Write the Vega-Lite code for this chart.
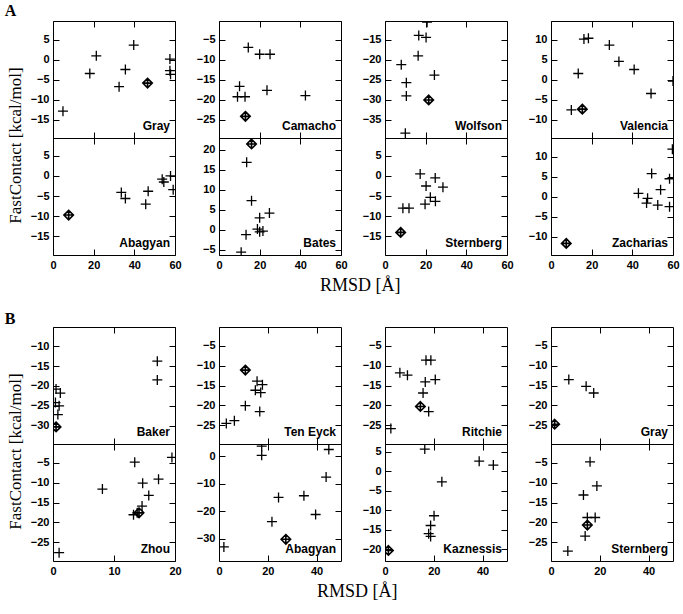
{
"$schema": "https://vega.github.io/schema/vega-lite/v6.json",
"padding": {"left": 4, "top": 2, "right": 0, "bottom": 0},
"background": "white",
"data": {"name": "pts"},
"datasets": {"pts": [
{"p":"A Gray","r":4.9,"e":-12.8,"nat":0},{"p":"A Gray","r":18.1,"e":-3.4,"nat":0},{"p":"A Gray","r":21.3,"e":1.0,"nat":0},{"p":"A Gray","r":32.5,"e":-6.7,"nat":0},{"p":"A Gray","r":35.6,"e":-2.4,"nat":0},{"p":"A Gray","r":39.7,"e":3.7,"nat":0},{"p":"A Gray","r":57.5,"e":0.2,"nat":0},{"p":"A Gray","r":57.5,"e":-2.7,"nat":0},{"p":"A Gray","r":57.8,"e":-3.6,"nat":0},{"p":"A Gray","r":46.5,"e":-5.8,"nat":1},
{"p":"A Camacho","r":14.4,"e":-6.9,"nat":0},{"p":"A Camacho","r":20.0,"e":-8.6,"nat":0},{"p":"A Camacho","r":25.1,"e":-8.6,"nat":0},{"p":"A Camacho","r":10.1,"e":-16.6,"nat":0},{"p":"A Camacho","r":9.1,"e":-19.2,"nat":0},{"p":"A Camacho","r":12.8,"e":-19.2,"nat":0},{"p":"A Camacho","r":23.6,"e":-17.6,"nat":0},{"p":"A Camacho","r":42.5,"e":-18.9,"nat":0},{"p":"A Camacho","r":13.0,"e":-24.1,"nat":1},
{"p":"A Wolfson","r":20.7,"e":-10.6,"nat":0},{"p":"A Wolfson","r":16.6,"e":-13.9,"nat":0},{"p":"A Wolfson","r":20.2,"e":-14.4,"nat":0},{"p":"A Wolfson","r":16.3,"e":-19.0,"nat":0},{"p":"A Wolfson","r":8.0,"e":-21.2,"nat":0},{"p":"A Wolfson","r":10.5,"e":-25.7,"nat":0},{"p":"A Wolfson","r":10.5,"e":-29.0,"nat":0},{"p":"A Wolfson","r":24.3,"e":-23.8,"nat":0},{"p":"A Wolfson","r":10.0,"e":-38.3,"nat":0},{"p":"A Wolfson","r":21.5,"e":-30.0,"nat":1},
{"p":"A Valencia","r":16.2,"e":10.2,"nat":0},{"p":"A Valencia","r":18.4,"e":10.4,"nat":0},{"p":"A Valencia","r":13.4,"e":1.6,"nat":0},{"p":"A Valencia","r":28.7,"e":8.7,"nat":0},{"p":"A Valencia","r":33.4,"e":4.6,"nat":0},{"p":"A Valencia","r":40.9,"e":2.6,"nat":0},{"p":"A Valencia","r":49.2,"e":-3.4,"nat":0},{"p":"A Valencia","r":60.0,"e":-0.3,"nat":0},{"p":"A Valencia","r":10.0,"e":-7.5,"nat":0},{"p":"A Valencia","r":15.4,"e":-7.3,"nat":1},
{"p":"A Abagyan","r":33.6,"e":-4.1,"nat":0},{"p":"A Abagyan","r":35.6,"e":-5.6,"nat":0},{"p":"A Abagyan","r":45.6,"e":-7.0,"nat":0},{"p":"A Abagyan","r":46.8,"e":-3.8,"nat":0},{"p":"A Abagyan","r":53.7,"e":-0.8,"nat":0},{"p":"A Abagyan","r":54.5,"e":-1.5,"nat":0},{"p":"A Abagyan","r":57.8,"e":0.0,"nat":0},{"p":"A Abagyan","r":59.1,"e":-3.4,"nat":0},{"p":"A Abagyan","r":7.7,"e":-9.7,"nat":1},
{"p":"A Bates","r":13.6,"e":16.9,"nat":0},{"p":"A Bates","r":16.0,"e":7.3,"nat":0},{"p":"A Bates","r":20.0,"e":3.0,"nat":0},{"p":"A Bates","r":24.8,"e":4.2,"nat":0},{"p":"A Bates","r":18.9,"e":0.2,"nat":0},{"p":"A Bates","r":20.0,"e":-0.5,"nat":0},{"p":"A Bates","r":21.6,"e":-0.3,"nat":0},{"p":"A Bates","r":13.3,"e":-1.2,"nat":0},{"p":"A Bates","r":10.9,"e":-5.6,"nat":0},{"p":"A Bates","r":16.0,"e":21.5,"nat":1},
{"p":"A Sternberg","r":17.3,"e":0.5,"nat":0},{"p":"A Sternberg","r":20.2,"e":-2.5,"nat":0},{"p":"A Sternberg","r":24.7,"e":-0.5,"nat":0},{"p":"A Sternberg","r":28.5,"e":-2.8,"nat":0},{"p":"A Sternberg","r":22.3,"e":-5.3,"nat":0},{"p":"A Sternberg","r":24.8,"e":-6.3,"nat":0},{"p":"A Sternberg","r":19.7,"e":-7.0,"nat":0},{"p":"A Sternberg","r":8.8,"e":-8.0,"nat":0},{"p":"A Sternberg","r":11.8,"e":-8.0,"nat":0},{"p":"A Sternberg","r":7.7,"e":-14.0,"nat":1},
{"p":"A Zacharias","r":59.7,"e":11.9,"nat":0},{"p":"A Zacharias","r":49.5,"e":5.8,"nat":0},{"p":"A Zacharias","r":58.3,"e":4.5,"nat":0},{"p":"A Zacharias","r":53.9,"e":1.75,"nat":0},{"p":"A Zacharias","r":43.0,"e":0.85,"nat":0},{"p":"A Zacharias","r":47.5,"e":-0.4,"nat":0},{"p":"A Zacharias","r":47.0,"e":-1.6,"nat":0},{"p":"A Zacharias","r":52.5,"e":-2.1,"nat":0},{"p":"A Zacharias","r":58.3,"e":-2.5,"nat":0},{"p":"A Zacharias","r":7.5,"e":-11.7,"nat":1},
{"p":"B Baker","r":17.1,"e":-13.8,"nat":0},{"p":"B Baker","r":17.1,"e":-18.5,"nat":0},{"p":"B Baker","r":0.5,"e":-20.8,"nat":0},{"p":"B Baker","r":1.2,"e":-21.8,"nat":0},{"p":"B Baker","r":0.4,"e":-24.2,"nat":0},{"p":"B Baker","r":1.0,"e":-25.0,"nat":0},{"p":"B Baker","r":0.8,"e":-27.2,"nat":0},{"p":"B Baker","r":0.5,"e":-30.3,"nat":1},
{"p":"B Ten Eyck","r":15.6,"e":-13.9,"nat":0},{"p":"B Ten Eyck","r":17.8,"e":-14.8,"nat":0},{"p":"B Ten Eyck","r":14.9,"e":-16.2,"nat":0},{"p":"B Ten Eyck","r":17.1,"e":-16.8,"nat":0},{"p":"B Ten Eyck","r":10.8,"e":-20.1,"nat":0},{"p":"B Ten Eyck","r":16.7,"e":-21.6,"nat":0},{"p":"B Ten Eyck","r":3.0,"e":-24.6,"nat":0},{"p":"B Ten Eyck","r":6.3,"e":-23.9,"nat":0},{"p":"B Ten Eyck","r":10.8,"e":-11.1,"nat":1},
{"p":"B Ritchie","r":16.8,"e":-8.6,"nat":0},{"p":"B Ritchie","r":18.8,"e":-8.6,"nat":0},{"p":"B Ritchie","r":6.1,"e":-11.8,"nat":0},{"p":"B Ritchie","r":9.2,"e":-12.4,"nat":0},{"p":"B Ritchie","r":16.5,"e":-14.1,"nat":0},{"p":"B Ritchie","r":20.6,"e":-13.5,"nat":0},{"p":"B Ritchie","r":15.6,"e":-16.9,"nat":0},{"p":"B Ritchie","r":17.9,"e":-21.6,"nat":0},{"p":"B Ritchie","r":2.4,"e":-25.9,"nat":0},{"p":"B Ritchie","r":14.5,"e":-20.3,"nat":1},
{"p":"B Gray","r":7.3,"e":-13.5,"nat":0},{"p":"B Gray","r":14.4,"e":-15.2,"nat":0},{"p":"B Gray","r":17.5,"e":-16.9,"nat":0},{"p":"B Gray","r":1.5,"e":-24.8,"nat":1},
{"p":"B Zhou","r":13.4,"e":-4.8,"nat":0},{"p":"B Zhou","r":19.5,"e":-3.6,"nat":0},{"p":"B Zhou","r":17.3,"e":-9.1,"nat":0},{"p":"B Zhou","r":14.7,"e":-10.1,"nat":0},{"p":"B Zhou","r":8.1,"e":-11.6,"nat":0},{"p":"B Zhou","r":15.7,"e":-13.2,"nat":0},{"p":"B Zhou","r":14.6,"e":-15.9,"nat":0},{"p":"B Zhou","r":13.2,"e":-18.1,"nat":0},{"p":"B Zhou","r":13.8,"e":-17.6,"nat":0},{"p":"B Zhou","r":1.0,"e":-27.7,"nat":0},{"p":"B Zhou","r":14.1,"e":-17.6,"nat":1},
{"p":"B Abagyan","r":17.5,"e":0.4,"nat":0},{"p":"B Abagyan","r":17.5,"e":3.7,"nat":0},{"p":"B Abagyan","r":45.0,"e":2.5,"nat":0},{"p":"B Abagyan","r":43.9,"e":-7.5,"nat":0},{"p":"B Abagyan","r":24.4,"e":-14.9,"nat":0},{"p":"B Abagyan","r":34.8,"e":-14.3,"nat":0},{"p":"B Abagyan","r":39.6,"e":-21.1,"nat":0},{"p":"B Abagyan","r":21.7,"e":-23.7,"nat":0},{"p":"B Abagyan","r":2.0,"e":-32.9,"nat":0},{"p":"B Abagyan","r":27.4,"e":-30.1,"nat":1},
{"p":"B Kaznessis","r":16.3,"e":5.7,"nat":0},{"p":"B Kaznessis","r":38.6,"e":2.6,"nat":0},{"p":"B Kaznessis","r":44.4,"e":1.6,"nat":0},{"p":"B Kaznessis","r":23.3,"e":-2.7,"nat":0},{"p":"B Kaznessis","r":20.1,"e":-11.4,"nat":0},{"p":"B Kaznessis","r":18.7,"e":-13.9,"nat":0},{"p":"B Kaznessis","r":17.9,"e":-16.0,"nat":0},{"p":"B Kaznessis","r":18.7,"e":-16.7,"nat":0},{"p":"B Kaznessis","r":1.4,"e":-20.3,"nat":1},
{"p":"B Sternberg","r":16.0,"e":-4.7,"nat":0},{"p":"B Sternberg","r":18.8,"e":-10.8,"nat":0},{"p":"B Sternberg","r":13.3,"e":-13.1,"nat":0},{"p":"B Sternberg","r":14.9,"e":-18.8,"nat":0},{"p":"B Sternberg","r":18.1,"e":-18.8,"nat":0},{"p":"B Sternberg","r":14.0,"e":-23.5,"nat":0},{"p":"B Sternberg","r":6.9,"e":-27.3,"nat":0},{"p":"B Sternberg","r":14.9,"e":-20.7,"nat":1}
]},
"vconcat": [
{
 "title": {"text": "A", "anchor": "start", "frame": "bounds", "font": "Liberation Serif", "fontSize": 16, "fontWeight": "bold", "offset": 2, "dx": -2},
 "vconcat": [{
  "title": {"text": "RMSD [Å]", "orient": "bottom", "anchor": "middle", "offset": 6, "fontSize": 18, "dx": 17},
  "vconcat": [{
   "title": {"text": "FastContact [kcal/mol]", "orient": "left", "anchor": "middle", "offset": 5},
   "columns": 4, "spacing": {"row": 0, "column": 44}, "bounds": "flush",
   "concat": [
     {"width":122,"height":117,"resolve":{"axis":{"x":"independent","y":"independent"}},"layer":[
      {"transform":[{"filter":"datum.p==='A Gray'&&datum.nat===0"}],"mark":{"type":"point","shape":"M-1,0L1,0M0,-1L0,1","filled":false,"stroke":"#000","strokeWidth":1.3,"size":100,"opacity":1,"clip":true},"encoding":{"x":{"field":"r","type":"quantitative","scale":{"domain":[0,60],"nice":false,"zero":false},"axis":{"orient":"bottom","title":null,"values":[0,20,40,60],"labels":false}},"y":{"field":"e","type":"quantitative","scale":{"domain":[-19.5,9.7],"nice":false,"zero":false},"axis":{"orient":"left","title":null,"values":[-15,-10,-5,0,5]}}}},
      {"transform":[{"filter":"datum.p==='A Gray'&&datum.nat===1"}],"mark":{"type":"point","shape":"M0,-1L1,0L0,1L-1,0ZM-1,0L1,0M0,-1L0,1","filled":false,"stroke":"#000","strokeWidth":1.6,"size":90,"opacity":1,"clip":true},"encoding":{"x":{"field":"r","type":"quantitative","scale":{"domain":[0,60],"nice":false,"zero":false},"axis":{"orient":"top","title":null,"tickCount":30}},"y":{"field":"e","type":"quantitative","scale":{"domain":[-19.5,9.7],"nice":false,"zero":false},"axis":{"orient":"right","title":null,"tickCount":30}}}},
      {"data":{"values":[{"label":"Gray"}]},"mark":{"type":"text","align":"right","baseline":"alphabetic","dx":-5,"dy":-8,"font":"Liberation Sans","fontSize":12,"fontWeight":"bold","color":"#000"},"encoding":{"x":{"value":"width"},"y":{"value":"height"},"text":{"field":"label","type":"nominal"}}}
     ]},
     {"width":122,"height":117,"resolve":{"axis":{"x":"independent","y":"independent"}},"layer":[
      {"transform":[{"filter":"datum.p==='A Camacho'&&datum.nat===0"}],"mark":{"type":"point","shape":"M-1,0L1,0M0,-1L0,1","filled":false,"stroke":"#000","strokeWidth":1.3,"size":100,"opacity":1,"clip":true},"encoding":{"x":{"field":"r","type":"quantitative","scale":{"domain":[0,60],"nice":false,"zero":false},"axis":{"orient":"bottom","title":null,"values":[0,20,40,60],"labels":false}},"y":{"field":"e","type":"quantitative","scale":{"domain":[-29.5,-0.3],"nice":false,"zero":false},"axis":{"orient":"left","title":null,"values":[-25,-20,-15,-10,-5]}}}},
      {"transform":[{"filter":"datum.p==='A Camacho'&&datum.nat===1"}],"mark":{"type":"point","shape":"M0,-1L1,0L0,1L-1,0ZM-1,0L1,0M0,-1L0,1","filled":false,"stroke":"#000","strokeWidth":1.6,"size":90,"opacity":1,"clip":true},"encoding":{"x":{"field":"r","type":"quantitative","scale":{"domain":[0,60],"nice":false,"zero":false},"axis":{"orient":"top","title":null,"tickCount":30}},"y":{"field":"e","type":"quantitative","scale":{"domain":[-29.5,-0.3],"nice":false,"zero":false},"axis":{"orient":"right","title":null,"tickCount":30}}}},
      {"data":{"values":[{"label":"Camacho"}]},"mark":{"type":"text","align":"right","baseline":"alphabetic","dx":-5,"dy":-8,"font":"Liberation Sans","fontSize":12,"fontWeight":"bold","color":"#000"},"encoding":{"x":{"value":"width"},"y":{"value":"height"},"text":{"field":"label","type":"nominal"}}}
     ]},
     {"width":122,"height":117,"resolve":{"axis":{"x":"independent","y":"independent"}},"layer":[
      {"transform":[{"filter":"datum.p==='A Wolfson'&&datum.nat===0"}],"mark":{"type":"point","shape":"M-1,0L1,0M0,-1L0,1","filled":false,"stroke":"#000","strokeWidth":1.3,"size":100,"opacity":1,"clip":true},"encoding":{"x":{"field":"r","type":"quantitative","scale":{"domain":[0,60],"nice":false,"zero":false},"axis":{"orient":"bottom","title":null,"values":[0,20,40,60],"labels":false}},"y":{"field":"e","type":"quantitative","scale":{"domain":[-39.5,-10.3],"nice":false,"zero":false},"axis":{"orient":"left","title":null,"values":[-35,-30,-25,-20,-15]}}}},
      {"transform":[{"filter":"datum.p==='A Wolfson'&&datum.nat===1"}],"mark":{"type":"point","shape":"M0,-1L1,0L0,1L-1,0ZM-1,0L1,0M0,-1L0,1","filled":false,"stroke":"#000","strokeWidth":1.6,"size":90,"opacity":1,"clip":true},"encoding":{"x":{"field":"r","type":"quantitative","scale":{"domain":[0,60],"nice":false,"zero":false},"axis":{"orient":"top","title":null,"tickCount":30}},"y":{"field":"e","type":"quantitative","scale":{"domain":[-39.5,-10.3],"nice":false,"zero":false},"axis":{"orient":"right","title":null,"tickCount":30}}}},
      {"data":{"values":[{"label":"Wolfson"}]},"mark":{"type":"text","align":"right","baseline":"alphabetic","dx":-5,"dy":-8,"font":"Liberation Sans","fontSize":12,"fontWeight":"bold","color":"#000"},"encoding":{"x":{"value":"width"},"y":{"value":"height"},"text":{"field":"label","type":"nominal"}}}
     ]},
     {"width":122,"height":117,"resolve":{"axis":{"x":"independent","y":"independent"}},"layer":[
      {"transform":[{"filter":"datum.p==='A Valencia'&&datum.nat===0"}],"mark":{"type":"point","shape":"M-1,0L1,0M0,-1L0,1","filled":false,"stroke":"#000","strokeWidth":1.3,"size":100,"opacity":1,"clip":true},"encoding":{"x":{"field":"r","type":"quantitative","scale":{"domain":[0,60],"nice":false,"zero":false},"axis":{"orient":"bottom","title":null,"values":[0,20,40,60],"labels":false}},"y":{"field":"e","type":"quantitative","scale":{"domain":[-14.5,14.7],"nice":false,"zero":false},"axis":{"orient":"left","title":null,"values":[-10,-5,0,5,10]}}}},
      {"transform":[{"filter":"datum.p==='A Valencia'&&datum.nat===1"}],"mark":{"type":"point","shape":"M0,-1L1,0L0,1L-1,0ZM-1,0L1,0M0,-1L0,1","filled":false,"stroke":"#000","strokeWidth":1.6,"size":90,"opacity":1,"clip":true},"encoding":{"x":{"field":"r","type":"quantitative","scale":{"domain":[0,60],"nice":false,"zero":false},"axis":{"orient":"top","title":null,"tickCount":30}},"y":{"field":"e","type":"quantitative","scale":{"domain":[-14.5,14.7],"nice":false,"zero":false},"axis":{"orient":"right","title":null,"tickCount":30}}}},
      {"data":{"values":[{"label":"Valencia"}]},"mark":{"type":"text","align":"right","baseline":"alphabetic","dx":-5,"dy":-8,"font":"Liberation Sans","fontSize":12,"fontWeight":"bold","color":"#000"},"encoding":{"x":{"value":"width"},"y":{"value":"height"},"text":{"field":"label","type":"nominal"}}}
     ]},
     {"width":122,"height":117,"resolve":{"axis":{"x":"independent","y":"independent"}},"layer":[
      {"transform":[{"filter":"datum.p==='A Abagyan'&&datum.nat===0"}],"mark":{"type":"point","shape":"M-1,0L1,0M0,-1L0,1","filled":false,"stroke":"#000","strokeWidth":1.3,"size":100,"opacity":1,"clip":true},"encoding":{"x":{"field":"r","type":"quantitative","scale":{"domain":[0,60],"nice":false,"zero":false},"axis":{"orient":"bottom","title":null,"values":[0,20,40,60]}},"y":{"field":"e","type":"quantitative","scale":{"domain":[-19.6,9.4],"nice":false,"zero":false},"axis":{"orient":"left","title":null,"values":[-15,-10,-5,0,5]}}}},
      {"transform":[{"filter":"datum.p==='A Abagyan'&&datum.nat===1"}],"mark":{"type":"point","shape":"M0,-1L1,0L0,1L-1,0ZM-1,0L1,0M0,-1L0,1","filled":false,"stroke":"#000","strokeWidth":1.6,"size":90,"opacity":1,"clip":true},"encoding":{"x":{"field":"r","type":"quantitative","scale":{"domain":[0,60],"nice":false,"zero":false},"axis":{"orient":"top","title":null,"tickCount":30}},"y":{"field":"e","type":"quantitative","scale":{"domain":[-19.6,9.4],"nice":false,"zero":false},"axis":{"orient":"right","title":null,"tickCount":30}}}},
      {"data":{"values":[{"label":"Abagyan"}]},"mark":{"type":"text","align":"right","baseline":"alphabetic","dx":-5,"dy":-8,"font":"Liberation Sans","fontSize":12,"fontWeight":"bold","color":"#000"},"encoding":{"x":{"value":"width"},"y":{"value":"height"},"text":{"field":"label","type":"nominal"}}}
     ]},
     {"width":122,"height":117,"resolve":{"axis":{"x":"independent","y":"independent"}},"layer":[
      {"transform":[{"filter":"datum.p==='A Bates'&&datum.nat===0"}],"mark":{"type":"point","shape":"M-1,0L1,0M0,-1L0,1","filled":false,"stroke":"#000","strokeWidth":1.3,"size":100,"opacity":1,"clip":true},"encoding":{"x":{"field":"r","type":"quantitative","scale":{"domain":[0,60],"nice":false,"zero":false},"axis":{"orient":"bottom","title":null,"values":[0,20,40,60]}},"y":{"field":"e","type":"quantitative","scale":{"domain":[-6.3,23],"nice":false,"zero":false},"axis":{"orient":"left","title":null,"values":[-5,0,5,10,15,20]}}}},
      {"transform":[{"filter":"datum.p==='A Bates'&&datum.nat===1"}],"mark":{"type":"point","shape":"M0,-1L1,0L0,1L-1,0ZM-1,0L1,0M0,-1L0,1","filled":false,"stroke":"#000","strokeWidth":1.6,"size":90,"opacity":1,"clip":true},"encoding":{"x":{"field":"r","type":"quantitative","scale":{"domain":[0,60],"nice":false,"zero":false},"axis":{"orient":"top","title":null,"tickCount":30}},"y":{"field":"e","type":"quantitative","scale":{"domain":[-6.3,23],"nice":false,"zero":false},"axis":{"orient":"right","title":null,"tickCount":30}}}},
      {"data":{"values":[{"label":"Bates"}]},"mark":{"type":"text","align":"right","baseline":"alphabetic","dx":-5,"dy":-8,"font":"Liberation Sans","fontSize":12,"fontWeight":"bold","color":"#000"},"encoding":{"x":{"value":"width"},"y":{"value":"height"},"text":{"field":"label","type":"nominal"}}}
     ]},
     {"width":122,"height":117,"resolve":{"axis":{"x":"independent","y":"independent"}},"layer":[
      {"transform":[{"filter":"datum.p==='A Sternberg'&&datum.nat===0"}],"mark":{"type":"point","shape":"M-1,0L1,0M0,-1L0,1","filled":false,"stroke":"#000","strokeWidth":1.3,"size":100,"opacity":1,"clip":true},"encoding":{"x":{"field":"r","type":"quantitative","scale":{"domain":[0,60],"nice":false,"zero":false},"axis":{"orient":"bottom","title":null,"values":[0,20,40,60]}},"y":{"field":"e","type":"quantitative","scale":{"domain":[-19.6,9.4],"nice":false,"zero":false},"axis":{"orient":"left","title":null,"values":[-15,-10,-5,0,5]}}}},
      {"transform":[{"filter":"datum.p==='A Sternberg'&&datum.nat===1"}],"mark":{"type":"point","shape":"M0,-1L1,0L0,1L-1,0ZM-1,0L1,0M0,-1L0,1","filled":false,"stroke":"#000","strokeWidth":1.6,"size":90,"opacity":1,"clip":true},"encoding":{"x":{"field":"r","type":"quantitative","scale":{"domain":[0,60],"nice":false,"zero":false},"axis":{"orient":"top","title":null,"tickCount":30}},"y":{"field":"e","type":"quantitative","scale":{"domain":[-19.6,9.4],"nice":false,"zero":false},"axis":{"orient":"right","title":null,"tickCount":30}}}},
      {"data":{"values":[{"label":"Sternberg"}]},"mark":{"type":"text","align":"right","baseline":"alphabetic","dx":-5,"dy":-8,"font":"Liberation Sans","fontSize":12,"fontWeight":"bold","color":"#000"},"encoding":{"x":{"value":"width"},"y":{"value":"height"},"text":{"field":"label","type":"nominal"}}}
     ]},
     {"width":122,"height":117,"resolve":{"axis":{"x":"independent","y":"independent"}},"layer":[
      {"transform":[{"filter":"datum.p==='A Zacharias'&&datum.nat===0"}],"mark":{"type":"point","shape":"M-1,0L1,0M0,-1L0,1","filled":false,"stroke":"#000","strokeWidth":1.3,"size":100,"opacity":1,"clip":true},"encoding":{"x":{"field":"r","type":"quantitative","scale":{"domain":[0,60],"nice":false,"zero":false},"axis":{"orient":"bottom","title":null,"values":[0,20,40,60]}},"y":{"field":"e","type":"quantitative","scale":{"domain":[-14.6,14.7],"nice":false,"zero":false},"axis":{"orient":"left","title":null,"values":[-10,-5,0,5,10]}}}},
      {"transform":[{"filter":"datum.p==='A Zacharias'&&datum.nat===1"}],"mark":{"type":"point","shape":"M0,-1L1,0L0,1L-1,0ZM-1,0L1,0M0,-1L0,1","filled":false,"stroke":"#000","strokeWidth":1.6,"size":90,"opacity":1,"clip":true},"encoding":{"x":{"field":"r","type":"quantitative","scale":{"domain":[0,60],"nice":false,"zero":false},"axis":{"orient":"top","title":null,"tickCount":30}},"y":{"field":"e","type":"quantitative","scale":{"domain":[-14.6,14.7],"nice":false,"zero":false},"axis":{"orient":"right","title":null,"tickCount":30}}}},
      {"data":{"values":[{"label":"Zacharias"}]},"mark":{"type":"text","align":"right","baseline":"alphabetic","dx":-5,"dy":-8,"font":"Liberation Sans","fontSize":12,"fontWeight":"bold","color":"#000"},"encoding":{"x":{"value":"width"},"y":{"value":"height"},"text":{"field":"label","type":"nominal"}}}
     ]}
   ]
  }]
 }]
},
{
 "title": {"text": "B", "anchor": "start", "frame": "bounds", "font": "Liberation Serif", "fontSize": 16, "fontWeight": "bold", "offset": 0, "dx": -2},
 "vconcat": [{
  "title": {"text": "RMSD [Å]", "orient": "bottom", "anchor": "middle", "offset": 6, "fontSize": 18, "dx": 17},
  "vconcat": [{
   "title": {"text": "FastContact [kcal/mol]", "orient": "left", "anchor": "middle", "offset": 5},
   "columns": 4, "spacing": {"row": 0, "column": 44}, "bounds": "flush",
   "concat": [
     {"width":122,"height":117,"resolve":{"axis":{"x":"independent","y":"independent"}},"layer":[
      {"transform":[{"filter":"datum.p==='B Baker'&&datum.nat===0"}],"mark":{"type":"point","shape":"M-1,0L1,0M0,-1L0,1","filled":false,"stroke":"#000","strokeWidth":1.3,"size":100,"opacity":1,"clip":true},"encoding":{"x":{"field":"r","type":"quantitative","scale":{"domain":[0,20],"nice":false,"zero":false},"axis":{"orient":"bottom","title":null,"values":[0,10,20],"labels":false}},"y":{"field":"e","type":"quantitative","scale":{"domain":[-34.6,-5.2],"nice":false,"zero":false},"axis":{"orient":"left","title":null,"values":[-30,-25,-20,-15,-10]}}}},
      {"transform":[{"filter":"datum.p==='B Baker'&&datum.nat===1"}],"mark":{"type":"point","shape":"M0,-1L1,0L0,1L-1,0ZM-1,0L1,0M0,-1L0,1","filled":false,"stroke":"#000","strokeWidth":1.6,"size":90,"opacity":1,"clip":true},"encoding":{"x":{"field":"r","type":"quantitative","scale":{"domain":[0,20],"nice":false,"zero":false},"axis":{"orient":"top","title":null,"tickCount":20}},"y":{"field":"e","type":"quantitative","scale":{"domain":[-34.6,-5.2],"nice":false,"zero":false},"axis":{"orient":"right","title":null,"tickCount":30}}}},
      {"data":{"values":[{"label":"Baker"}]},"mark":{"type":"text","align":"right","baseline":"alphabetic","dx":-5,"dy":-8,"font":"Liberation Sans","fontSize":12,"fontWeight":"bold","color":"#000"},"encoding":{"x":{"value":"width"},"y":{"value":"height"},"text":{"field":"label","type":"nominal"}}}
     ]},
     {"width":122,"height":117,"resolve":{"axis":{"x":"independent","y":"independent"}},"layer":[
      {"transform":[{"filter":"datum.p==='B Ten Eyck'&&datum.nat===0"}],"mark":{"type":"point","shape":"M-1,0L1,0M0,-1L0,1","filled":false,"stroke":"#000","strokeWidth":1.3,"size":100,"opacity":1,"clip":true},"encoding":{"x":{"field":"r","type":"quantitative","scale":{"domain":[0,50],"nice":false,"zero":false},"axis":{"orient":"bottom","title":null,"values":[0,20,40],"labels":false}},"y":{"field":"e","type":"quantitative","scale":{"domain":[-29.8,-0.2],"nice":false,"zero":false},"axis":{"orient":"left","title":null,"values":[-25,-20,-15,-10,-5]}}}},
      {"transform":[{"filter":"datum.p==='B Ten Eyck'&&datum.nat===1"}],"mark":{"type":"point","shape":"M0,-1L1,0L0,1L-1,0ZM-1,0L1,0M0,-1L0,1","filled":false,"stroke":"#000","strokeWidth":1.6,"size":90,"opacity":1,"clip":true},"encoding":{"x":{"field":"r","type":"quantitative","scale":{"domain":[0,50],"nice":false,"zero":false},"axis":{"orient":"top","title":null,"tickCount":25}},"y":{"field":"e","type":"quantitative","scale":{"domain":[-29.8,-0.2],"nice":false,"zero":false},"axis":{"orient":"right","title":null,"tickCount":30}}}},
      {"data":{"values":[{"label":"Ten Eyck"}]},"mark":{"type":"text","align":"right","baseline":"alphabetic","dx":-5,"dy":-8,"font":"Liberation Sans","fontSize":12,"fontWeight":"bold","color":"#000"},"encoding":{"x":{"value":"width"},"y":{"value":"height"},"text":{"field":"label","type":"nominal"}}}
     ]},
     {"width":122,"height":117,"resolve":{"axis":{"x":"independent","y":"independent"}},"layer":[
      {"transform":[{"filter":"datum.p==='B Ritchie'&&datum.nat===0"}],"mark":{"type":"point","shape":"M-1,0L1,0M0,-1L0,1","filled":false,"stroke":"#000","strokeWidth":1.3,"size":100,"opacity":1,"clip":true},"encoding":{"x":{"field":"r","type":"quantitative","scale":{"domain":[0,50],"nice":false,"zero":false},"axis":{"orient":"bottom","title":null,"values":[0,20,40],"labels":false}},"y":{"field":"e","type":"quantitative","scale":{"domain":[-29.8,-0.2],"nice":false,"zero":false},"axis":{"orient":"left","title":null,"values":[-25,-20,-15,-10,-5]}}}},
      {"transform":[{"filter":"datum.p==='B Ritchie'&&datum.nat===1"}],"mark":{"type":"point","shape":"M0,-1L1,0L0,1L-1,0ZM-1,0L1,0M0,-1L0,1","filled":false,"stroke":"#000","strokeWidth":1.6,"size":90,"opacity":1,"clip":true},"encoding":{"x":{"field":"r","type":"quantitative","scale":{"domain":[0,50],"nice":false,"zero":false},"axis":{"orient":"top","title":null,"tickCount":25}},"y":{"field":"e","type":"quantitative","scale":{"domain":[-29.8,-0.2],"nice":false,"zero":false},"axis":{"orient":"right","title":null,"tickCount":30}}}},
      {"data":{"values":[{"label":"Ritchie"}]},"mark":{"type":"text","align":"right","baseline":"alphabetic","dx":-5,"dy":-8,"font":"Liberation Sans","fontSize":12,"fontWeight":"bold","color":"#000"},"encoding":{"x":{"value":"width"},"y":{"value":"height"},"text":{"field":"label","type":"nominal"}}}
     ]},
     {"width":122,"height":117,"resolve":{"axis":{"x":"independent","y":"independent"}},"layer":[
      {"transform":[{"filter":"datum.p==='B Gray'&&datum.nat===0"}],"mark":{"type":"point","shape":"M-1,0L1,0M0,-1L0,1","filled":false,"stroke":"#000","strokeWidth":1.3,"size":100,"opacity":1,"clip":true},"encoding":{"x":{"field":"r","type":"quantitative","scale":{"domain":[0,50],"nice":false,"zero":false},"axis":{"orient":"bottom","title":null,"values":[0,20,40],"labels":false}},"y":{"field":"e","type":"quantitative","scale":{"domain":[-29.8,-0.2],"nice":false,"zero":false},"axis":{"orient":"left","title":null,"values":[-25,-20,-15,-10,-5]}}}},
      {"transform":[{"filter":"datum.p==='B Gray'&&datum.nat===1"}],"mark":{"type":"point","shape":"M0,-1L1,0L0,1L-1,0ZM-1,0L1,0M0,-1L0,1","filled":false,"stroke":"#000","strokeWidth":1.6,"size":90,"opacity":1,"clip":true},"encoding":{"x":{"field":"r","type":"quantitative","scale":{"domain":[0,50],"nice":false,"zero":false},"axis":{"orient":"top","title":null,"tickCount":25}},"y":{"field":"e","type":"quantitative","scale":{"domain":[-29.8,-0.2],"nice":false,"zero":false},"axis":{"orient":"right","title":null,"tickCount":30}}}},
      {"data":{"values":[{"label":"Gray"}]},"mark":{"type":"text","align":"right","baseline":"alphabetic","dx":-5,"dy":-8,"font":"Liberation Sans","fontSize":12,"fontWeight":"bold","color":"#000"},"encoding":{"x":{"value":"width"},"y":{"value":"height"},"text":{"field":"label","type":"nominal"}}}
     ]},
     {"width":122,"height":117,"resolve":{"axis":{"x":"independent","y":"independent"}},"layer":[
      {"transform":[{"filter":"datum.p==='B Zhou'&&datum.nat===0"}],"mark":{"type":"point","shape":"M-1,0L1,0M0,-1L0,1","filled":false,"stroke":"#000","strokeWidth":1.3,"size":100,"opacity":1,"clip":true},"encoding":{"x":{"field":"r","type":"quantitative","scale":{"domain":[0,20],"nice":false,"zero":false},"axis":{"orient":"bottom","title":null,"values":[0,10,20]}},"y":{"field":"e","type":"quantitative","scale":{"domain":[-29.8,-0.2],"nice":false,"zero":false},"axis":{"orient":"left","title":null,"values":[-25,-20,-15,-10,-5]}}}},
      {"transform":[{"filter":"datum.p==='B Zhou'&&datum.nat===1"}],"mark":{"type":"point","shape":"M0,-1L1,0L0,1L-1,0ZM-1,0L1,0M0,-1L0,1","filled":false,"stroke":"#000","strokeWidth":1.6,"size":90,"opacity":1,"clip":true},"encoding":{"x":{"field":"r","type":"quantitative","scale":{"domain":[0,20],"nice":false,"zero":false},"axis":{"orient":"top","title":null,"tickCount":20}},"y":{"field":"e","type":"quantitative","scale":{"domain":[-29.8,-0.2],"nice":false,"zero":false},"axis":{"orient":"right","title":null,"tickCount":30}}}},
      {"data":{"values":[{"label":"Zhou"}]},"mark":{"type":"text","align":"right","baseline":"alphabetic","dx":-5,"dy":-8,"font":"Liberation Sans","fontSize":12,"fontWeight":"bold","color":"#000"},"encoding":{"x":{"value":"width"},"y":{"value":"height"},"text":{"field":"label","type":"nominal"}}}
     ]},
     {"width":122,"height":117,"resolve":{"axis":{"x":"independent","y":"independent"}},"layer":[
      {"transform":[{"filter":"datum.p==='B Abagyan'&&datum.nat===0"}],"mark":{"type":"point","shape":"M-1,0L1,0M0,-1L0,1","filled":false,"stroke":"#000","strokeWidth":1.3,"size":100,"opacity":1,"clip":true},"encoding":{"x":{"field":"r","type":"quantitative","scale":{"domain":[0,50],"nice":false,"zero":false},"axis":{"orient":"bottom","title":null,"values":[0,20,40]}},"y":{"field":"e","type":"quantitative","scale":{"domain":[-38,4.5],"nice":false,"zero":false},"axis":{"orient":"left","title":null,"values":[-30,-20,-10,0]}}}},
      {"transform":[{"filter":"datum.p==='B Abagyan'&&datum.nat===1"}],"mark":{"type":"point","shape":"M0,-1L1,0L0,1L-1,0ZM-1,0L1,0M0,-1L0,1","filled":false,"stroke":"#000","strokeWidth":1.6,"size":90,"opacity":1,"clip":true},"encoding":{"x":{"field":"r","type":"quantitative","scale":{"domain":[0,50],"nice":false,"zero":false},"axis":{"orient":"top","title":null,"tickCount":25}},"y":{"field":"e","type":"quantitative","scale":{"domain":[-38,4.5],"nice":false,"zero":false},"axis":{"orient":"right","title":null,"tickCount":21}}}},
      {"data":{"values":[{"label":"Abagyan"}]},"mark":{"type":"text","align":"right","baseline":"alphabetic","dx":-5,"dy":-8,"font":"Liberation Sans","fontSize":12,"fontWeight":"bold","color":"#000"},"encoding":{"x":{"value":"width"},"y":{"value":"height"},"text":{"field":"label","type":"nominal"}}}
     ]},
     {"width":122,"height":117,"resolve":{"axis":{"x":"independent","y":"independent"}},"layer":[
      {"transform":[{"filter":"datum.p==='B Kaznessis'&&datum.nat===0"}],"mark":{"type":"point","shape":"M-1,0L1,0M0,-1L0,1","filled":false,"stroke":"#000","strokeWidth":1.3,"size":100,"opacity":1,"clip":true},"encoding":{"x":{"field":"r","type":"quantitative","scale":{"domain":[0,50],"nice":false,"zero":false},"axis":{"orient":"bottom","title":null,"values":[0,20,40]}},"y":{"field":"e","type":"quantitative","scale":{"domain":[-23,7],"nice":false,"zero":false},"axis":{"orient":"left","title":null,"values":[-20,-15,-10,-5,0,5]}}}},
      {"transform":[{"filter":"datum.p==='B Kaznessis'&&datum.nat===1"}],"mark":{"type":"point","shape":"M0,-1L1,0L0,1L-1,0ZM-1,0L1,0M0,-1L0,1","filled":false,"stroke":"#000","strokeWidth":1.6,"size":90,"opacity":1,"clip":true},"encoding":{"x":{"field":"r","type":"quantitative","scale":{"domain":[0,50],"nice":false,"zero":false},"axis":{"orient":"top","title":null,"tickCount":25}},"y":{"field":"e","type":"quantitative","scale":{"domain":[-23,7],"nice":false,"zero":false},"axis":{"orient":"right","title":null,"tickCount":30}}}},
      {"data":{"values":[{"label":"Kaznessis"}]},"mark":{"type":"text","align":"right","baseline":"alphabetic","dx":-5,"dy":-8,"font":"Liberation Sans","fontSize":12,"fontWeight":"bold","color":"#000"},"encoding":{"x":{"value":"width"},"y":{"value":"height"},"text":{"field":"label","type":"nominal"}}}
     ]},
     {"width":122,"height":117,"resolve":{"axis":{"x":"independent","y":"independent"}},"layer":[
      {"transform":[{"filter":"datum.p==='B Sternberg'&&datum.nat===0"}],"mark":{"type":"point","shape":"M-1,0L1,0M0,-1L0,1","filled":false,"stroke":"#000","strokeWidth":1.3,"size":100,"opacity":1,"clip":true},"encoding":{"x":{"field":"r","type":"quantitative","scale":{"domain":[0,50],"nice":false,"zero":false},"axis":{"orient":"bottom","title":null,"values":[0,20,40]}},"y":{"field":"e","type":"quantitative","scale":{"domain":[-29.8,-0.2],"nice":false,"zero":false},"axis":{"orient":"left","title":null,"values":[-25,-20,-15,-10,-5]}}}},
      {"transform":[{"filter":"datum.p==='B Sternberg'&&datum.nat===1"}],"mark":{"type":"point","shape":"M0,-1L1,0L0,1L-1,0ZM-1,0L1,0M0,-1L0,1","filled":false,"stroke":"#000","strokeWidth":1.6,"size":90,"opacity":1,"clip":true},"encoding":{"x":{"field":"r","type":"quantitative","scale":{"domain":[0,50],"nice":false,"zero":false},"axis":{"orient":"top","title":null,"tickCount":25}},"y":{"field":"e","type":"quantitative","scale":{"domain":[-29.8,-0.2],"nice":false,"zero":false},"axis":{"orient":"right","title":null,"tickCount":30}}}},
      {"data":{"values":[{"label":"Sternberg"}]},"mark":{"type":"text","align":"right","baseline":"alphabetic","dx":-5,"dy":-8,"font":"Liberation Sans","fontSize":12,"fontWeight":"bold","color":"#000"},"encoding":{"x":{"value":"width"},"y":{"value":"height"},"text":{"field":"label","type":"nominal"}}}
     ]}
   ]
  }]
 }]
}
],
"spacing": 15,
"config": {
 "view": {"stroke": "#000", "strokeWidth": 1},
 "axis": {"domain": false, "ticks": false, "tickSize": 0, "grid": true, "gridColor": "#000", "gridOpacity": 1, "gridWidth": 1, "labelFont": "Liberation Sans", "labelFontSize": 11, "labelFontWeight": "bold", "labelColor": "#000", "labelPadding": 4, "labelFlush": false, "labelOverlap": false},
 "axisBottom": {"gridDash": [6, 105, 6]},
 "axisTop": {"labels": false, "gridDash": [3.5, 110, 3.5]},
 "axisLeft": {"gridDash": [6, 110, 6]},
 "axisRight": {"labels": false, "gridDash": [3.5, 115, 3.5]},
 "title": {"font": "Liberation Serif", "fontSize": 17, "fontWeight": "normal", "color": "#000"}
}
}
